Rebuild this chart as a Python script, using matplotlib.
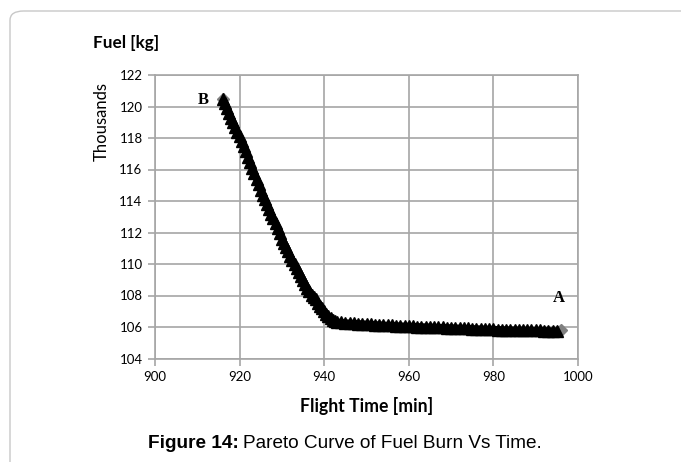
import matplotlib.pyplot as plt
from matplotlib.patches import FancyBboxPatch

# flight time [min] vs fuel burn [thousand kg] along the pareto front
# steep branch sampled every half minute, flat branch every minute
flight_time = [916.0, 916.5, 917.0, 917.5, 918.0, 918.5, 919.0, 919.5, 920.0, 920.5,
               921.0, 921.5, 922.0, 922.5, 923.0, 923.5, 924.0, 924.5, 925.0, 925.5,
               926.0, 926.5, 927.0, 927.5, 928.0, 928.5, 929.0, 929.5, 930.0, 930.5,
               931.0, 931.5, 932.0, 932.5, 933.0, 933.5, 934.0, 934.5, 935.0, 935.5,
               936.0, 936.5, 937.0, 937.5, 938.0, 938.5, 939.0, 939.5, 940.0, 940.5,
               941.0, 941.5, 942.0, 942.5, 943.0, 944, 945,
               946, 947, 948, 949, 950, 951, 952, 953, 954, 955,
               956, 957, 958, 959, 960, 961, 962, 963, 964, 965,
               966, 967, 968, 969, 970, 971, 972, 973, 974, 975,
               976, 977, 978, 979, 980, 981, 982, 983, 984, 985,
               986, 987, 988, 989, 990, 991, 992, 993, 994, 995, 996]
fuel = [120.5, 120.2, 119.9, 119.6, 119.3, 119.0, 118.7, 118.4, 118.1, 117.8,
        117.5, 117.15, 116.8, 116.45, 116.1, 115.75, 115.4, 115.05, 114.7, 114.4,
        114.1, 113.8, 113.5, 113.2, 112.9, 112.6, 112.3, 111.95, 111.6, 111.35,
        111.1, 110.8, 110.5, 110.25, 110.0, 109.75, 109.5, 109.25, 109.0, 108.75,
        108.5, 108.28, 108.05, 107.9, 107.75, 107.55, 107.35, 107.18, 107.0, 106.85,
        106.7, 106.58, 106.47, 106.38, 106.32, 106.29, 106.27,
        106.25, 106.23, 106.22, 106.2, 106.19, 106.17, 106.15, 106.14, 106.12, 106.11,
        106.1, 106.08, 106.07, 106.06, 106.05, 106.04, 106.03, 106.02, 106.01, 106.0,
        105.99, 105.98, 105.97, 105.96, 105.95, 105.94, 105.93, 105.92, 105.91, 105.9,
        105.89, 105.88, 105.87, 105.86, 105.85, 105.84, 105.83, 105.82, 105.82, 105.81,
        105.8, 105.8, 105.79, 105.79, 105.78, 105.78, 105.77, 105.77, 105.76, 105.76, 105.8]

x_ticks = [900, 920, 940, 960, 980, 1000]
y_ticks = [104, 106, 108, 110, 112, 114, 116, 118, 120, 122]

grid_col = '#a6a6a6'

fig = plt.figure(figsize=(6.81, 4.62), dpi=100)

# panel frame with a rounded corner
frame = FancyBboxPatch((10 / 681, -0.2), 1.2, (462 - 11) / 462 + 0.2,
                       boxstyle='round,pad=0,rounding_size=0.02',
                       transform=fig.transFigure, facecolor='white',
                       edgecolor='#c8c8c8', linewidth=1.0, zorder=-10)
fig.patches.append(frame)

ax = fig.add_axes([155 / 681, 1 - 358.5 / 462, 423 / 681, 283.5 / 462])
ax.set_zorder(5)
ax.patch.set_alpha(0)
ax.set_xlim(900, 1000)
ax.set_ylim(104, 122)
ax.set_xticks(x_ticks)
ax.set_yticks(y_ticks)
ax.grid(True, color=grid_col, linewidth=1.2)
ax.set_axisbelow(True)
for s in ax.spines.values():
    s.set_color(grid_col)
    s.set_linewidth(1.2)
ax.tick_params(direction='out', length=5, width=1.2, color=grid_col,
               labelsize=9.5, pad=4)
for lab in ax.get_xticklabels() + ax.get_yticklabels():
    lab.set_family('Lato')

# grey front line with diamond end points, black triangle markers on top
ax.plot(flight_time, fuel, color='#808080', linewidth=1.5, marker='D',
        markersize=6, markevery=[0, len(fuel) - 1], zorder=2)
ax.plot(flight_time[:-1], fuel[:-1], color='black', linewidth=5,
        solid_capstyle='butt', marker='^', markersize=8, zorder=3)

ax.text(911.5, 120.4, 'B', family='Liberation Serif', fontweight='bold',
        fontsize=12, ha='center', va='center')
ax.text(995.5, 107.85, 'A', family='Liberation Serif', fontweight='bold',
        fontsize=12, ha='center', va='center')

ax.set_xlabel('Flight Time [min]', family='Lato', fontweight='bold',
              fontsize=12.7, labelpad=10)

fig.text(101.5 / 681, 1 - 121.5 / 462, 'Thousands', family='Lato', fontsize=12,
         rotation=90, ha='center', va='center')
fig.text(93 / 681, 1 - 43 / 462, 'Fuel [kg]', family='Lato', fontweight='bold',
         fontsize=12.3, ha='left', va='center')

# caption: bold lead-in followed by plain text
cap_y = 1 - 443 / 462
t1 = fig.text(148 / 681, cap_y, 'Figure 14:', family='Liberation Sans',
              fontweight='bold', fontsize=13.7, ha='left', va='center')
r = fig.canvas.get_renderer()
bb = t1.get_window_extent(renderer=r)
fig.text(bb.x1 / 681 + 4 / 681, cap_y, 'Pareto Curve of Fuel Burn Vs Time.',
         family='Liberation Sans', fontsize=13.7, ha='left', va='center')

fig.savefig('out.png', dpi=100)
